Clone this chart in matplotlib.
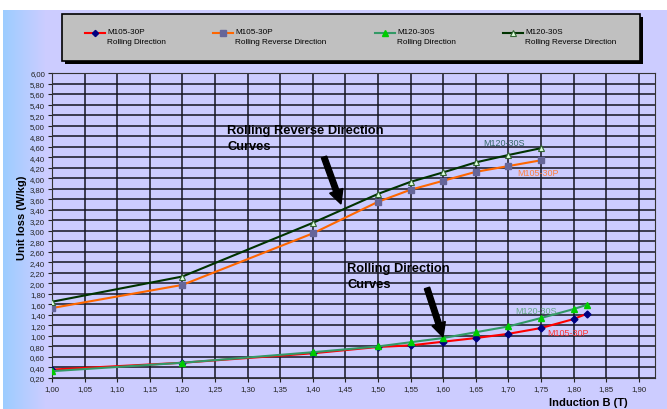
import numpy as np
import matplotlib
matplotlib.use("Agg")
import matplotlib.pyplot as plt
from matplotlib.lines import Line2D
from matplotlib.patches import Rectangle, FancyArrow

plt.rcParams["font.family"] = ["Liberation Sans", "DejaVu Sans"]

# data
b_rrd = [1.00, 1.20, 1.40, 1.50, 1.55, 1.60, 1.65, 1.70, 1.75]
m120_rrd = [1.65, 2.13, 3.15, 3.70, 3.93, 4.11, 4.30, 4.44, 4.57]
m105_rrd = [1.53, 1.97, 2.95, 3.55, 3.78, 3.95, 4.12, 4.23, 4.34]

b_rd = [1.00, 1.20, 1.40, 1.50, 1.55, 1.60, 1.65, 1.70, 1.75, 1.80, 1.82]
m120_rd = [0.33, 0.49, 0.69, 0.80, 0.88, 0.96, 1.07, 1.18, 1.34, 1.51, 1.59]
m105_rd = [0.36, 0.49, 0.67, 0.79, 0.82, 0.89, 0.96, 1.04, 1.15, 1.32, 1.42]

x_ticks = np.round(np.arange(1.00, 1.901, 0.05), 2)
y_ticks = np.round(np.arange(0.20, 6.001, 0.20), 2)

W, H = 667, 410
fig = plt.figure(figsize=(W / 100, H / 100), dpi=100)
fig.patch.set_facecolor("#CCCCFF")

# background in pixel coords: white top strip, blue gradient on the left
bg = fig.add_axes([0, 0, 1, 1], zorder=-10)
grad = np.ones((H, W, 3))
lav = np.array([0xCC, 0xCC, 0xFF]) / 255
blue = np.array([0x99, 0xCC, 0xFF]) / 255
for i in range(W):
    t = min(i / 45.0, 1.0)
    grad[:, i] = blue * (1 - t) + lav * t
grad[:11, :] = 1.0
grad[:, :3] = 1.0
bg.imshow(grad, aspect="auto", extent=[0, W, H, 0])
bg.set_xlim(0, W)
bg.set_ylim(H, 0)
bg.set_axis_off()

ax = fig.add_axes([52 / W, 1 - 379 / H, (655 - 52) / W, (379 - 74) / H])
ax.set_facecolor("#CCCCFF")
ax.set_xlim(1.0, 1.925)
ax.set_ylim(0.2, 6.0)

ax.set_xticks(x_ticks)
ax.set_yticks(y_ticks)
ax.set_xticklabels([f"{v:.2f}".replace(".", ",") for v in x_ticks], fontsize=5.6)
ax.set_yticklabels([f"{v:.2f}".replace(".", ",") for v in y_ticks], fontsize=5.6)
ax.tick_params(length=3, width=0.8, pad=2, colors="#222222")
ax.grid(True, color="#151520", linewidth=1.1)
ax.set_axisbelow(True)
for s in ax.spines.values():
    s.set_color("#333333")

series = [
    (b_rd, m105_rd, dict(color="#FF0000", marker="D", ms=3.5, mfc="#000080", mec="#000080"),
     "M105-30P\nRolling Direction"),
    (b_rrd, m105_rrd, dict(color="#FF6600", marker="s", ms=5, mfc="#666699", mec="#666699"),
     "M105-30P\nRolling Reverse Direction"),
    (b_rd, m120_rd, dict(color="#339966", marker="^", ms=4.5, mfc="#00CC00", mec="#00CC00"),
     "M120-30S\nRolling Direction"),
    (b_rrd, m120_rrd, dict(color="#003300", marker="^", ms=4.5, mfc="#DDFFDD", mec="#336633", mew=0.8),
     "M120-30S\nRolling Reverse Direction"),
]
for xs, ys, st, lab in series:
    ax.plot(xs, ys, lw=1.5, zorder=3, **st)

# curve labels
ax.text(1.661, 4.68, "M120-30S", color="#336666", fontsize=6.5, va="center")
ax.text(1.713, 4.11, "M105-30P", color="#FF8040", fontsize=6.5, va="center")
ax.text(1.711, 1.485, "M120-30S", color="#66AA88", fontsize=6.5, va="center")
ax.text(1.760, 1.07, "M105-30P", color="#FF3333", fontsize=6.5, va="center")

# overlay in pixel coords for annotations
top = fig.add_axes([0, 0, 1, 1], zorder=10)
top.set_xlim(0, W)
top.set_ylim(H, 0)
top.set_axis_off()
top.patch.set_alpha(0)

top.text(227, 125, "Rolling Reverse Direction\nCurves", fontsize=9.3,
         fontweight="bold", va="top", linespacing=1.4)
top.text(347, 263, "Rolling Direction\nCurves", fontsize=9.3,
         fontweight="bold", va="top", linespacing=1.4)
for (x0, y0), (x1, y1) in [((324, 158), (341, 205)), ((427, 289), (443, 338))]:
    top.add_patch(FancyArrow(x0, y0, x1 - x0, y1 - y0, width=5.5, head_width=14,
                             head_length=14, length_includes_head=True,
                             color="black"))

fig.text(22 / W, 1 - 218 / H, "Unit loss (W/kg)", rotation=90, fontsize=8,
         fontweight="bold", ha="center", va="center")
fig.text(588 / W, 1 - 403 / H, "Induction B (T)", fontsize=8,
         fontweight="bold", ha="center", va="center")

# legend box
bg.add_patch(Rectangle((65, 18), 578, 47, facecolor="black", edgecolor="none", zorder=1))
bg.add_patch(Rectangle((62, 15), 578, 47, facecolor="#C0C0C0", edgecolor="black",
                       lw=1.2, zorder=2))
handle_x = [85, 213, 375, 503]
for hx, (xs, ys, st, lab) in zip(handle_x, series):
    st2 = dict(st)
    st2["ms"] = st2["ms"] * 0.9
    bg.add_line(Line2D([hx, hx + 20], [34, 34], lw=1.5, color=st2["color"], zorder=3))
    bg.add_line(Line2D([hx + 10], [34], lw=0, zorder=4, **st2))
    bg.text(hx + 22, 29.5, lab, fontsize=5.9, va="top", ha="left",
            linespacing=1.45, zorder=4)

fig.savefig("out.png", dpi=100, facecolor=fig.get_facecolor())
